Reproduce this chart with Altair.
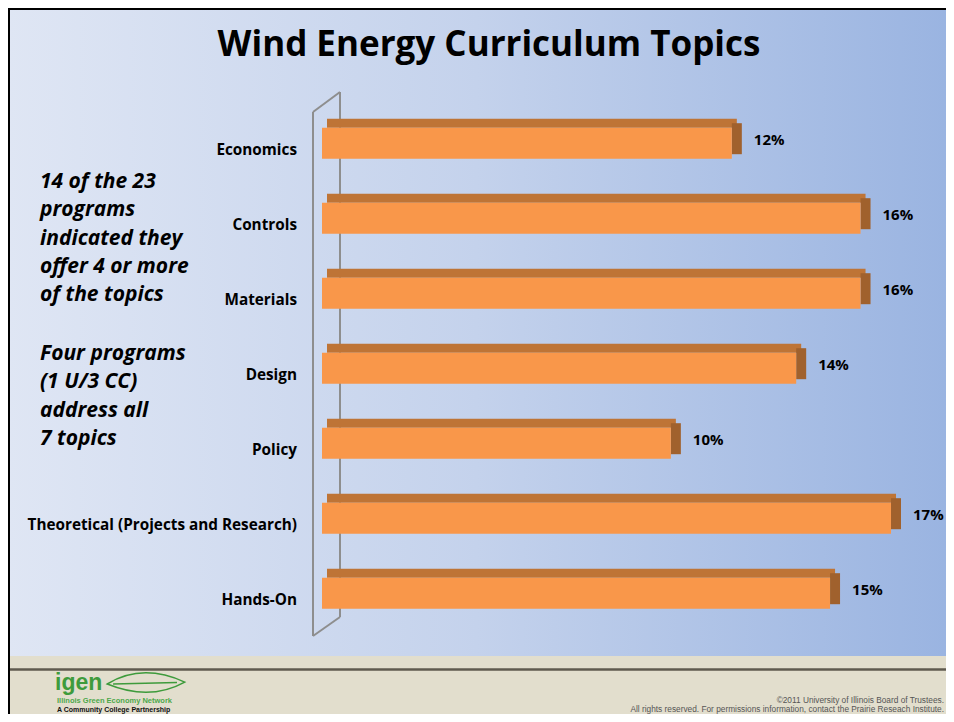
import altair as alt
import pandas as pd

# ---------------- data ----------------
topics = ["Economics", "Controls", "Materials", "Design", "Policy",
          "Theoretical (Projects and Research)", "Hands-On"]
shares = [12.1, 15.9, 15.9, 14.0, 10.3, 16.8, 15.0]

title_text = "Wind Energy Curriculum Topics"
note_block1 = ["14 of the 23", "\u00a0programs", "indicated they", "offer 4 or more", "of the topics"]
note_block2 = ["Four programs", "(1 U/3 CC)", "address all", "7 topics"]
copyright_lines = ["\u00a92011 University of Illinois Board of Trustees.",
                   "All rights reserved. For permissions information, contact the Prairie Reseach Institute."]
logo_word = "igen"
logo_sub = "Illinois Green Economy Network"
logo_sub2 = "A Community College Partnership"

# ---------------- layout ----------------
W, H = 938, 706
FRONT = "#F9974A"
TOP = "#BE7436"
SIDE = "#A0612D"
WALL = "#8E8E8E"
FONT = "Open Sans"

df = pd.DataFrame({"topic": topics, "share": shares})
one = pd.DataFrame({"k": [0]})

xs = alt.Scale(domain=[0, 20], range=[314, 314 + 20 * 33.87], nice=False, zero=True)
ys = alt.Scale(domain=topics, range=[119.7, 600.7], paddingInner=0.5867, paddingOuter=0)
X = alt.X("share:Q", scale=xs, axis=None)
X2 = alt.X2("share:Q")
Y = alt.Y("topic:N", scale=ys, axis=None, sort=topics)

grad = alt.LinearGradient(
    gradient="linear",
    stops=[alt.GradientStop(offset=0, color="#DFE6F4"),
           alt.GradientStop(offset=0.5, color="#C4D2EC"),
           alt.GradientStop(offset=1, color="#9AB4E1")],
    x1=0, x2=1, y1=0, y2=0,
)

base1 = alt.Chart(one)

bg = base1.mark_rect(fill=grad).encode(
    x=alt.value(0), x2=alt.value(W), y=alt.value(0), y2=alt.value(648))
footer = base1.mark_rect(color="#E2DECD").encode(
    x=alt.value(0), x2=alt.value(W), y=alt.value(648), y2=alt.value(H))
footer_line = base1.mark_rule(color="#5F5A4E", strokeWidth=2.5).encode(
    x=alt.value(0), x2=alt.value(W), y=alt.value(661.5))
border_top = base1.mark_rule(color="black", strokeWidth=2).encode(
    x=alt.value(0), x2=alt.value(W), y=alt.value(1))
border_left = base1.mark_rule(color="black", strokeWidth=2).encode(
    x=alt.value(1), y=alt.value(0), y2=alt.value(H))

# 3D wall (axis)
wall_back = base1.mark_rule(color=WALL, strokeWidth=2).encode(
    x=alt.value(332), y=alt.value(84), y2=alt.value(609))
wall_front = base1.mark_rule(color=WALL, strokeWidth=2).encode(
    x=alt.value(305), y=alt.value(104), y2=alt.value(628))
wall_top = base1.mark_rule(color=WALL, strokeWidth=2).encode(
    x=alt.value(305), y=alt.value(104), x2=alt.value(332), y2=alt.value(84))
wall_bot = base1.mark_rule(color=WALL, strokeWidth=2).encode(
    x=alt.value(305), y=alt.value(628), x2=alt.value(332), y2=alt.value(609))

base = alt.Chart(df)
top_face = base.mark_bar(color=TOP, height=9, yOffset=-20, xOffset=5).encode(x=X, y=Y)
side_face = base.mark_bar(color=SIDE, yOffset=-4.5, x2Offset=10).encode(x=X, x2=X2, y=Y)
front = base.mark_bar(color=FRONT).encode(x=X, y=Y)

cat_labels = base.mark_text(align="right", baseline="middle", dy=7, font=FONT,
                            fontWeight="bold", fontSize=15.3, color="black").encode(
    x=alt.value(289), y=Y, text="topic:N")

val_labels = base.transform_calculate(
    lab="format(datum.share, '.0f') + '%'"
).mark_text(align="left", baseline="middle", dx=22, dy=-3, font=FONT,
            fontWeight="bold", fontSize=15, color="black").encode(
    x=X, y=Y, text="lab:N")

title = base1.mark_text(text=title_text, align="center", baseline="middle", font=FONT,
                        fontWeight="bold", fontSize=35, color="black").encode(
    x=alt.value(481), y=alt.value(37))

note1 = base1.mark_text(text=note_block1, align="left", baseline="middle", font=FONT,
                        fontWeight="bold", fontStyle="italic", fontSize=21,
                        lineHeight=28.25, color="black").encode(
    x=alt.value(32), y=alt.value(174))
note2 = base1.mark_text(text=note_block2, align="left", baseline="middle", font=FONT,
                        fontWeight="bold", fontStyle="italic", fontSize=21,
                        lineHeight=28.25, color="black").encode(
    x=alt.value(32), y=alt.value(346))

copy_txt = base1.mark_text(text=copyright_lines, align="right", baseline="middle",
                           font="Liberation Sans", fontSize=8.3, lineHeight=9,
                           color="#555555").encode(
    x=alt.value(936), y=alt.value(693))

logo = base1.mark_text(text=logo_word, align="left", baseline="alphabetic",
                       font="Liberation Sans", fontWeight="bold", fontSize=23,
                       color="#3E9B3C").encode(x=alt.value(47), y=alt.value(682))
leaf = base1.mark_point(
    shape="M -1 0 Q -0.1 -0.55 1 -0.05 Q 0.1 0.45 -1 0 Z M -0.85 0 L 0.8 -0.04",
    size=6000, filled=False, color="#3E9B3C", strokeWidth=1.5, opacity=1).encode(
    x=alt.value(138), y=alt.value(676))
logo_sub_txt = base1.mark_text(text=logo_sub, align="left", baseline="middle",
                               font="Liberation Sans", fontWeight="bold",
                               fontSize=7.5, color="#4CA84A").encode(
    x=alt.value(49), y=alt.value(693))
logo_sub2_txt = base1.mark_text(text=logo_sub2, align="left", baseline="middle",
                                font="Liberation Sans", fontWeight="bold",
                                fontSize=7, color="#111111").encode(
    x=alt.value(49), y=alt.value(701.5))

chart = alt.layer(
    bg, footer, footer_line, border_top, border_left,
    wall_back, wall_front, wall_top, wall_bot,
    top_face, side_face, front,
    cat_labels, val_labels, title, note1, note2,
    copy_txt, logo, leaf, logo_sub_txt, logo_sub2_txt,
).properties(
    width=W, height=H,
    autosize=alt.AutoSizeParams(type="none"),
    padding=0,
).configure_view(stroke="transparent")

chart.save("out.html", embed_options={"renderer": "svg", "actions": False})
